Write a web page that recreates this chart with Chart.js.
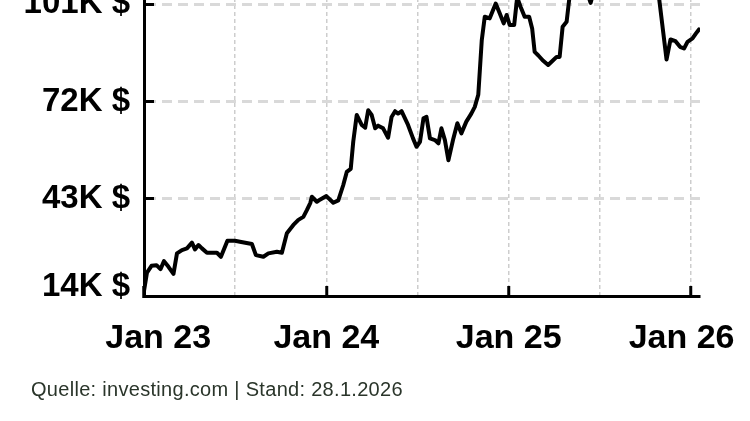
<!DOCTYPE html>
<html>
<head>
<meta charset="utf-8">
<script src="https://cdn.jsdelivr.net/npm/chart.js@4"></script>
<style>
  html, body { margin: 0; padding: 0; background: #fff; }
  body { width: 750px; height: 421px; position: relative; overflow: hidden; }
  #wrap { position: absolute; left: 0; top: -118px; width: 750px; height: 508px; }
  #source {
    position: absolute; left: 31px; top: 379px;
    font: 20px 'Liberation Sans', Arial, sans-serif; line-height: 20px;
    letter-spacing: 0.3px; color: #2a352a; white-space: nowrap;
  }
</style>
</head>
<body>
<div id="wrap"><canvas id="btcChart"></canvas></div>
<div id="source">Quelle: investing.com | Stand: 28.1.2026</div>
<script>
// Bitcoin price, thousand USD
const dates = [
  '2023-01-01', '2023-01-07', '2023-01-16', '2023-01-26', '2023-02-03', '2023-02-10', '2023-02-19',
  '2023-03-01', '2023-03-08', '2023-03-18', '2023-03-28', '2023-04-07', '2023-04-13', '2023-04-20',
  '2023-04-27', '2023-05-07', '2023-05-17', '2023-05-27', '2023-06-04', '2023-06-17', '2023-07-02',
  '2023-07-12', '2023-08-05', '2023-08-13', '2023-08-28', '2023-09-07', '2023-09-24', '2023-10-04',
  '2023-10-14', '2023-10-27', '2023-11-06', '2023-11-16', '2023-11-23', '2023-11-30', '2023-12-03',
  '2023-12-13', '2023-12-20', '2024-01-01', '2024-01-15', '2024-01-25', '2024-02-04', '2024-02-11',
  '2024-02-19', '2024-02-24', '2024-03-02', '2024-03-12', '2024-03-19', '2024-03-25', '2024-04-01',
  '2024-04-08', '2024-04-14', '2024-04-24', '2024-05-04', '2024-05-11', '2024-05-18', '2024-05-24',
  '2024-05-31', '2024-06-13', '2024-06-23', '2024-06-30', '2024-07-07', '2024-07-14', '2024-07-20',
  '2024-07-27', '2024-08-06', '2024-08-13', '2024-08-19', '2024-08-26', '2024-09-02', '2024-09-12',
  '2024-09-20', '2024-09-28', '2024-10-08', '2024-10-18', '2024-10-25', '2024-11-01', '2024-11-08',
  '2024-11-14', '2024-11-24', '2024-12-06', '2024-12-14', '2024-12-22', '2024-12-28', '2025-01-03',
  '2025-01-12', '2025-01-18', '2025-01-25', '2025-02-02', '2025-02-11', '2025-02-17', '2025-02-22',
  '2025-03-01', '2025-03-10', '2025-03-21', '2025-03-31', '2025-04-07', '2025-04-13', '2025-04-19',
  '2025-04-27', '2025-05-03', '2025-05-13', '2025-05-23', '2025-06-04', '2025-06-14', '2025-06-24',
  '2025-07-04', '2025-07-14', '2025-07-24', '2025-08-03', '2025-08-13', '2025-08-23', '2025-09-02',
  '2025-09-12', '2025-09-22', '2025-10-02', '2025-10-06', '2025-10-13', '2025-10-20', '2025-11-13',
  '2025-11-21', '2025-12-01', '2025-12-10', '2025-12-18', '2025-12-25', '2026-01-04', '2026-01-11',
  '2026-01-17',
];
const prices = [
  15.5, 21.0, 23.0, 23.2, 22.0, 24.4, 22.7,
  20.6, 26.7, 27.7, 28.2, 29.9, 27.9, 29.2,
  28.2, 26.9, 26.9, 26.9, 25.7, 30.5, 30.5,
  30.2, 29.5, 26.2, 25.7, 26.7, 27.2, 26.9,
  32.7, 35.2, 36.7, 37.6, 39.6, 41.8, 43.6,
  42.1, 42.8, 43.8, 41.8, 42.5, 47.1, 51.0,
  51.9, 60.0, 68.0, 65.0, 64.2, 69.4, 68.0,
  64.0, 64.8, 64.0, 61.2, 67.4, 69.1, 68.4,
  69.1, 65.0, 61.0, 58.5, 60.0, 67.0, 67.4,
  61.0, 60.5, 59.5, 64.0, 60.5, 54.5, 61.0,
  65.5, 62.5, 66.0, 68.4, 70.4, 74.0, 90.3,
  97.3, 96.8, 101.2, 98.3, 95.3, 97.8, 94.8,
  94.8, 103.0, 100.2, 97.3, 97.3, 93.8, 86.8,
  85.8, 84.3, 82.9, 84.3, 85.3, 85.3, 94.3,
  95.8, 103.5, 108, 110, 106, 101.4, 107,
  110, 119, 118, 114, 122, 115, 110,
  115, 113, 120, 124, 115, 114, 84.5,
  90.5, 90.0, 88.3, 87.8, 89.8, 90.8, 92.3,
  93.5,
];

const yearTicks = [2023, 2023.5, 2024, 2024.5, 2025, 2025.5, 2026];
const yearLabels = { 2023: '   Jan 23', 2024: 'Jan 24', 2025: 'Jan 25', 2026: 'Jan 26  ' };
const priceTicks = [14, 43, 72, 101, 130];
const xEnd = '2026-01-19';

function toYear(s) {
  const d = Date.parse(s + 'T00:00:00Z');
  const y = new Date(d).getUTCFullYear();
  const start = Date.UTC(y, 0, 1);
  const end = Date.UTC(y + 1, 0, 1);
  return y + (d - start) / (end - start);
}

const points = dates.map((d, i) => ({ x: toYear(d), y: prices[i] }));
const labelFont = { family: "'Liberation Sans', Arial, sans-serif", weight: 'bold', size: 33 };

new Chart(document.getElementById('btcChart').getContext('2d'), {
  type: 'line',
  data: {
    datasets: [
      {
        data: points,
        borderColor: '#000',
        borderWidth: 4,
        pointRadius: 0,
        tension: 0,
        borderJoinStyle: 'round',
        borderCapStyle: 'round',
      },
    ],
  },
  options: {
    responsive: true,
    maintainAspectRatio: false,
    animation: false,
    layout: { padding: { top: 25, right: 50, left: 0, bottom: 0 } },
    plugins: { legend: { display: false }, tooltip: { enabled: false } },
    scales: {
      x: {
        type: 'linear',
        min: 2023,
        max: toYear(xEnd),
        afterBuildTicks: (scale) => {
          scale.ticks = yearTicks.map((v) => ({ value: v }));
        },
        afterFit: (scale) => {
          scale.height = 94;
          scale.paddingLeft = 0;
          scale.paddingRight = 0;
        },
        ticks: {
          autoSkip: false,
          maxRotation: 0,
          padding: 32,
          color: '#000',
          font: { ...labelFont, size: 34 },
          callback: (v) => yearLabels[v] || '',
        },
        grid: {
          color: (ctx) => (ctx.index === 0 ? 'rgba(0,0,0,0)' : '#cdcdcd'),
          lineWidth: 1.5,
          tickLength: -10,
          tickWidth: 3,
          tickColor: (ctx) =>
            ctx.tick && Number.isInteger(ctx.tick.value) ? '#000' : 'rgba(0,0,0,0)',
        },
        border: { color: '#000', width: 3, dash: [4, 3] },
      },
      y: {
        min: 14,
        max: 130,
        afterBuildTicks: (scale) => {
          scale.ticks = priceTicks.map((v) => ({ value: v }));
        },
        afterFit: (scale) => {
          scale.width = 144;
          scale.paddingTop = 0;
          scale.paddingBottom = 0;
        },
        ticks: {
          padding: 24,
          color: '#000',
          // bottom label sits a bit above the x axis: an empty second line lifts it
          font: (ctx) => (ctx.index === 0 ? { ...labelFont, lineHeight: '18px' } : labelFont),
          callback: (v, i) => (i === 0 ? [v + 'K $', ''] : v + 'K $'),
        },
        grid: {
          color: (ctx) => (ctx.index === 0 ? 'rgba(0,0,0,0)' : '#d9d9d9'),
          lineWidth: 3,
          tickLength: -10,
          tickWidth: 3,
          tickColor: '#000',
        },
        border: { color: '#000', width: 3, dash: [10, 6] },
      },
    },
  },
});
</script>
</body>
</html>
